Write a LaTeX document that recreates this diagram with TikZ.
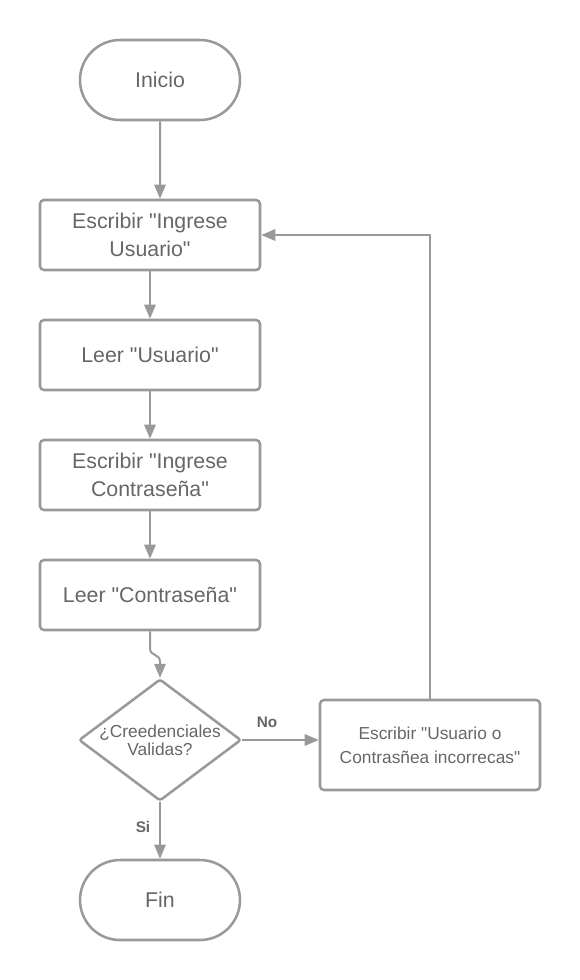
\documentclass[tikz,border=0pt]{standalone}
\usepackage{fontspec}
\setmainfont{Liberation Sans}[Ligatures=TeXOff]
\usetikzlibrary{shapes.geometric,shapes.misc,arrows.meta}
\definecolor{linegray}{RGB}{153,153,153}
\definecolor{textgray}{RGB}{102,102,102}
\tikzset{
  caja/.style={draw=linegray, line width=1.9pt, rounded corners=3pt, minimum width=165pt, minimum height=52.5pt, inner sep=0pt, align=center, text=textgray, font=\fontsize{16}{20.5}\selectfont},
  terminal/.style={rounded rectangle, draw=linegray, line width=1.9pt, minimum width=120pt, minimum height=60pt, inner sep=0pt, text=textgray, font=\fontsize{16}{20.5}\selectfont},
  decision/.style={diamond, aspect=1.333, draw=linegray, line width=1.9pt, rounded corners=2pt, minimum width=120pt, minimum height=90pt, inner sep=0pt, align=center, text=textgray, font=\fontsize{13}{13.5}\selectfont},
  flecha/.style={draw=linegray, line width=1.5pt, -{Triangle[length=10.5pt,width=8.5pt]}},
  etiqueta/.style={text=textgray, font=\bfseries\fontsize{11.5}{13}\selectfont}
}
\begin{document}
\begin{tikzpicture}[x=0.75pt,y=-0.75pt]
\useasboundingbox (0,0) rectangle (580,980);

\node[terminal] (inicio) at (160,80) {Inicio};
\node[caja] (ingusu) at (150,235) {Escribir "Ingrese\\Usuario"};
\node[caja] (leeusu) at (150,355) {Leer "Usuario"};
\node[caja] (ingcon) at (150,475) {Escribir "Ingrese\\Contraseña"};
\node[caja] (leecon) at (150,595) {Leer "Contraseña"};
\node[decision] (valida) at (160,740) {¿Creedenciales\\Validas?};
\node[caja, minimum height=67.5pt, font=\fontsize{13}{18}\selectfont] (error) at (430,745) {Escribir "Usuario o\\Contrasñea incorrecas"};
\node[terminal] (fin) at (160,900) {Fin};

\draw[flecha] (inicio) -- (inicio |- ingusu.north);
\draw[flecha] (ingusu) -- (leeusu);
\draw[flecha] (leeusu) -- (ingcon);
\draw[flecha] (ingcon) -- (leecon);
\coordinate (quiebre) at (160,662);
\draw[flecha] (leecon.south) -- (150,648) .. controls (150,657) and (160,653) .. (quiebre) -- (valida.north);

\draw[flecha] (valida.east) -- (valida.east -| error.west);
\node[etiqueta] (no) at (267,722) {No};
\draw[flecha] (error.north) |- (ingusu.east);

\draw[flecha] (valida) -- (fin);
\node[etiqueta] (si) at (143,827) {Si};
\end{tikzpicture}
\end{document}
